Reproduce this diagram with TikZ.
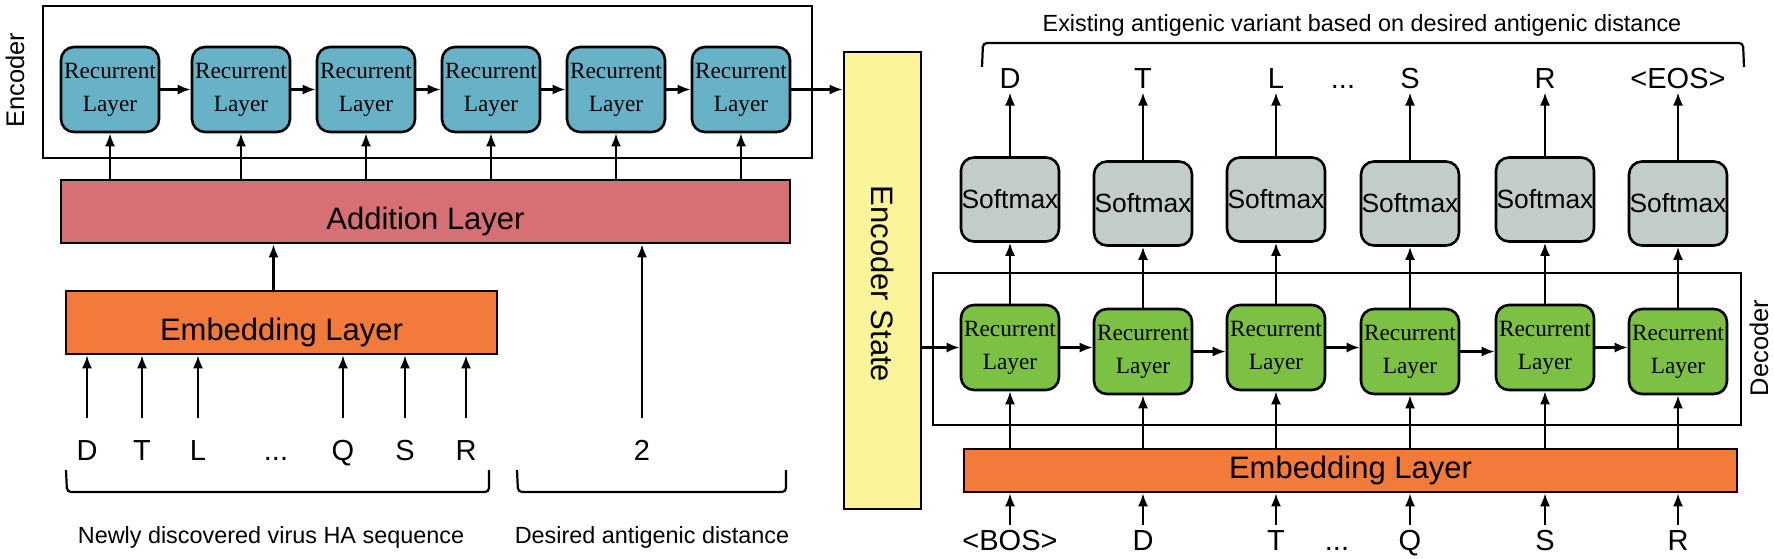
\documentclass[tikz,border=0pt]{standalone}
\usepackage{fontspec}
\setmainfont{Liberation Serif}
\newfontfamily\arialf{Liberation Sans}
\usetikzlibrary{arrows.meta}
\definecolor{encblue}{RGB}{103,178,198}
\definecolor{addred}{RGB}{214,112,117}
\definecolor{embor}{RGB}{242,122,58}
\definecolor{yel}{RGB}{252,244,154}
\definecolor{smgray}{RGB}{194,204,203}
\definecolor{decgreen}{RGB}{124,192,68}
\tikzset{
  recbox/.style={draw, line width=2.6pt, rounded corners=13pt, minimum width=98pt, minimum height=85pt, inner sep=0pt, align=center, font=\fontsize{23.3}{33}\selectfont},
  encrec/.style={recbox, fill=encblue},
  decrec/.style={recbox, fill=decgreen},
  smbox/.style={draw, line width=2.6pt, rounded corners=13pt, minimum width=98pt, minimum height=84pt, inner sep=0pt, fill=smgray, font=\arialf\fontsize{26.4}{26.4}\selectfont},
  layerbox/.style={draw, line width=2.6pt, inner sep=0pt, font=\arialf\fontsize{31}{31}\selectfont},
  lowtext/.style={text height=36pt, text depth=0pt},
  letter/.style={inner sep=0pt, anchor=base, font=\arialf\fontsize{29}{29}\selectfont},
  caption/.style={inner sep=0pt, font=\arialf\fontsize{23.4}{23.4}\selectfont},
  sidelabel/.style={inner sep=0pt, font=\arialf\fontsize{25.5}{25.5}\selectfont},
  container/.style={draw, line width=2.4pt},
  arr/.style={-{Latex[length=13pt,width=10pt]}, line width=2.2pt},
  brk/.style={line width=2.2pt, rounded corners=4pt},
}
\begin{document}
\begin{tikzpicture}[x=1pt, y=-1pt]
\useasboundingbox (0,0) rectangle (1774,558);

% ---------- Encoder ----------
\draw[container] (43,6) rectangle (812,158);
\node[sidelabel, rotate=90] (enclabel) at (15,80) {Encoder};
\foreach \i/\x in {1/110,2/241,3/366,4/491,5/616,6/741}{
  \node[encrec] (er\i) at (\x,89.5) {Recurrent\\Layer};
}
\foreach \a/\b in {1/2,2/3,3/4,4/5,5/6}{
  \draw[arr] (er\a.east) -- (er\b.west);
}
\node[layerbox, lowtext, fill=addred, minimum width=729pt, minimum height=63pt] (add) at (425.5,211.5) {Addition Layer};
\foreach \i in {1,...,6}{
  \draw[arr] (er\i |- add.north) -- (er\i.south);
}
\node[layerbox, lowtext, fill=embor, minimum width=431pt, minimum height=63pt] (embL) at (281.5,322.5) {Embedding Layer};
\draw[arr] ([xshift=-8pt]embL.north) -- ([xshift=-8pt]embL.north |- add.south);

% input letters
\foreach \n/\t/\x in {iD/D/87,iT/T/142,iL/L/198,iQ/Q/343,iS/S/405,iR/R/466}{
  \node[letter] (\n) at (\x,460.5) {\t};
  \draw[arr] ([yshift=22pt]\n.north) -- (\n |- embL.south);
}
\node[letter] (idots) at (276,460.5) {...};
\node[letter] (two) at (642,460.5) {2};
\draw[arr] ([yshift=22pt]two.north) -- (two |- add.south);

% bottom brackets
\draw[brk] (66,470) -- (67,492) -- (489,492) -- (489,470);
\draw[brk] (517,470) -- (518,492) -- (786,492) -- (786,470);
\node[caption] (capL) at (271,537) {Newly discovered virus HA sequence};
\node[caption] (capR) at (652,537) {Desired antigenic distance};

% ---------- Encoder state ----------
\node[draw, line width=2.6pt, fill=yel, minimum width=77pt, minimum height=457pt, inner sep=0pt] (yel) at (882.5,280.5) {};
\node[inner sep=0pt, rotate=-90, font=\arialf\fontsize{31}{31}\selectfont] (yeltext) at (883,284) {Encoder State};
\draw[arr] (er6.east) -- (er6.east -| yel.west);

% ---------- Decoder ----------
\draw[container] (933,273) rectangle (1741,425);
\node[sidelabel, rotate=90] (declabel) at (1759,348) {Decoder};
\foreach \i/\x/\dy in {1/1010/0,2/1143/4,3/1276/0,4/1410/4,5/1545/0,6/1678/4}{
  \node[decrec] (dr\i) at (\x,347.5+\dy) {Recurrent\\Layer};
  \node[smbox] (sm\i) at (\x,199.5+\dy) {Softmax};
  \draw[arr] (dr\i.north) -- (sm\i.south);
}
\draw[arr] (yel.east |- dr1.west) -- (dr1.west);
\foreach \a/\b in {1/2,2/3,3/4,4/5,5/6}{
  \draw[arr] (dr\a.east) -- (dr\a.east -| dr\b.west);
}
\node[layerbox, fill=embor, minimum width=773pt, minimum height=43pt] (embR) at (1350.5,470.5) {Embedding Layer};
\foreach \i in {1,...,6}{
  \draw[arr] (dr\i |- embR.north) -- (dr\i.south);
}

% output letters
\foreach \n/\t/\i in {oD/D/1,oT/T/2,oL/L/3,oS/S/4,oR/R/5,oE/{<EOS>}/6}{
  \node[letter] (\n) at (sm\i |- 0,88.5) {\t};
  \draw[arr] (sm\i.north) -- ([yshift=-4pt]sm\i.north |- \n.base);
}
\node[letter] (odots) at (1343,88.5) {...};

% decoder input letters
\foreach \n/\t/\i in {bB/{<BOS>}/1,bD/D/2,bT/T/3,bQ/Q/4,bS/S/5,bR/R/6}{
  \node[letter] (\n) at (sm\i |- 0,550.5) {\t};
  \draw[arr] ([yshift=26pt]\n.base) -- (\n |- embR.south);
}
\node[letter] (bdots) at (1337,550.5) {...};

% top bracket and title
\draw[brk] (982,67) -- (983,43) -- (1743,43) -- (1744,67);
\node[caption] (title) at (1362,25) {Existing antigenic variant based on desired antigenic distance};
\end{tikzpicture}
\end{document}
